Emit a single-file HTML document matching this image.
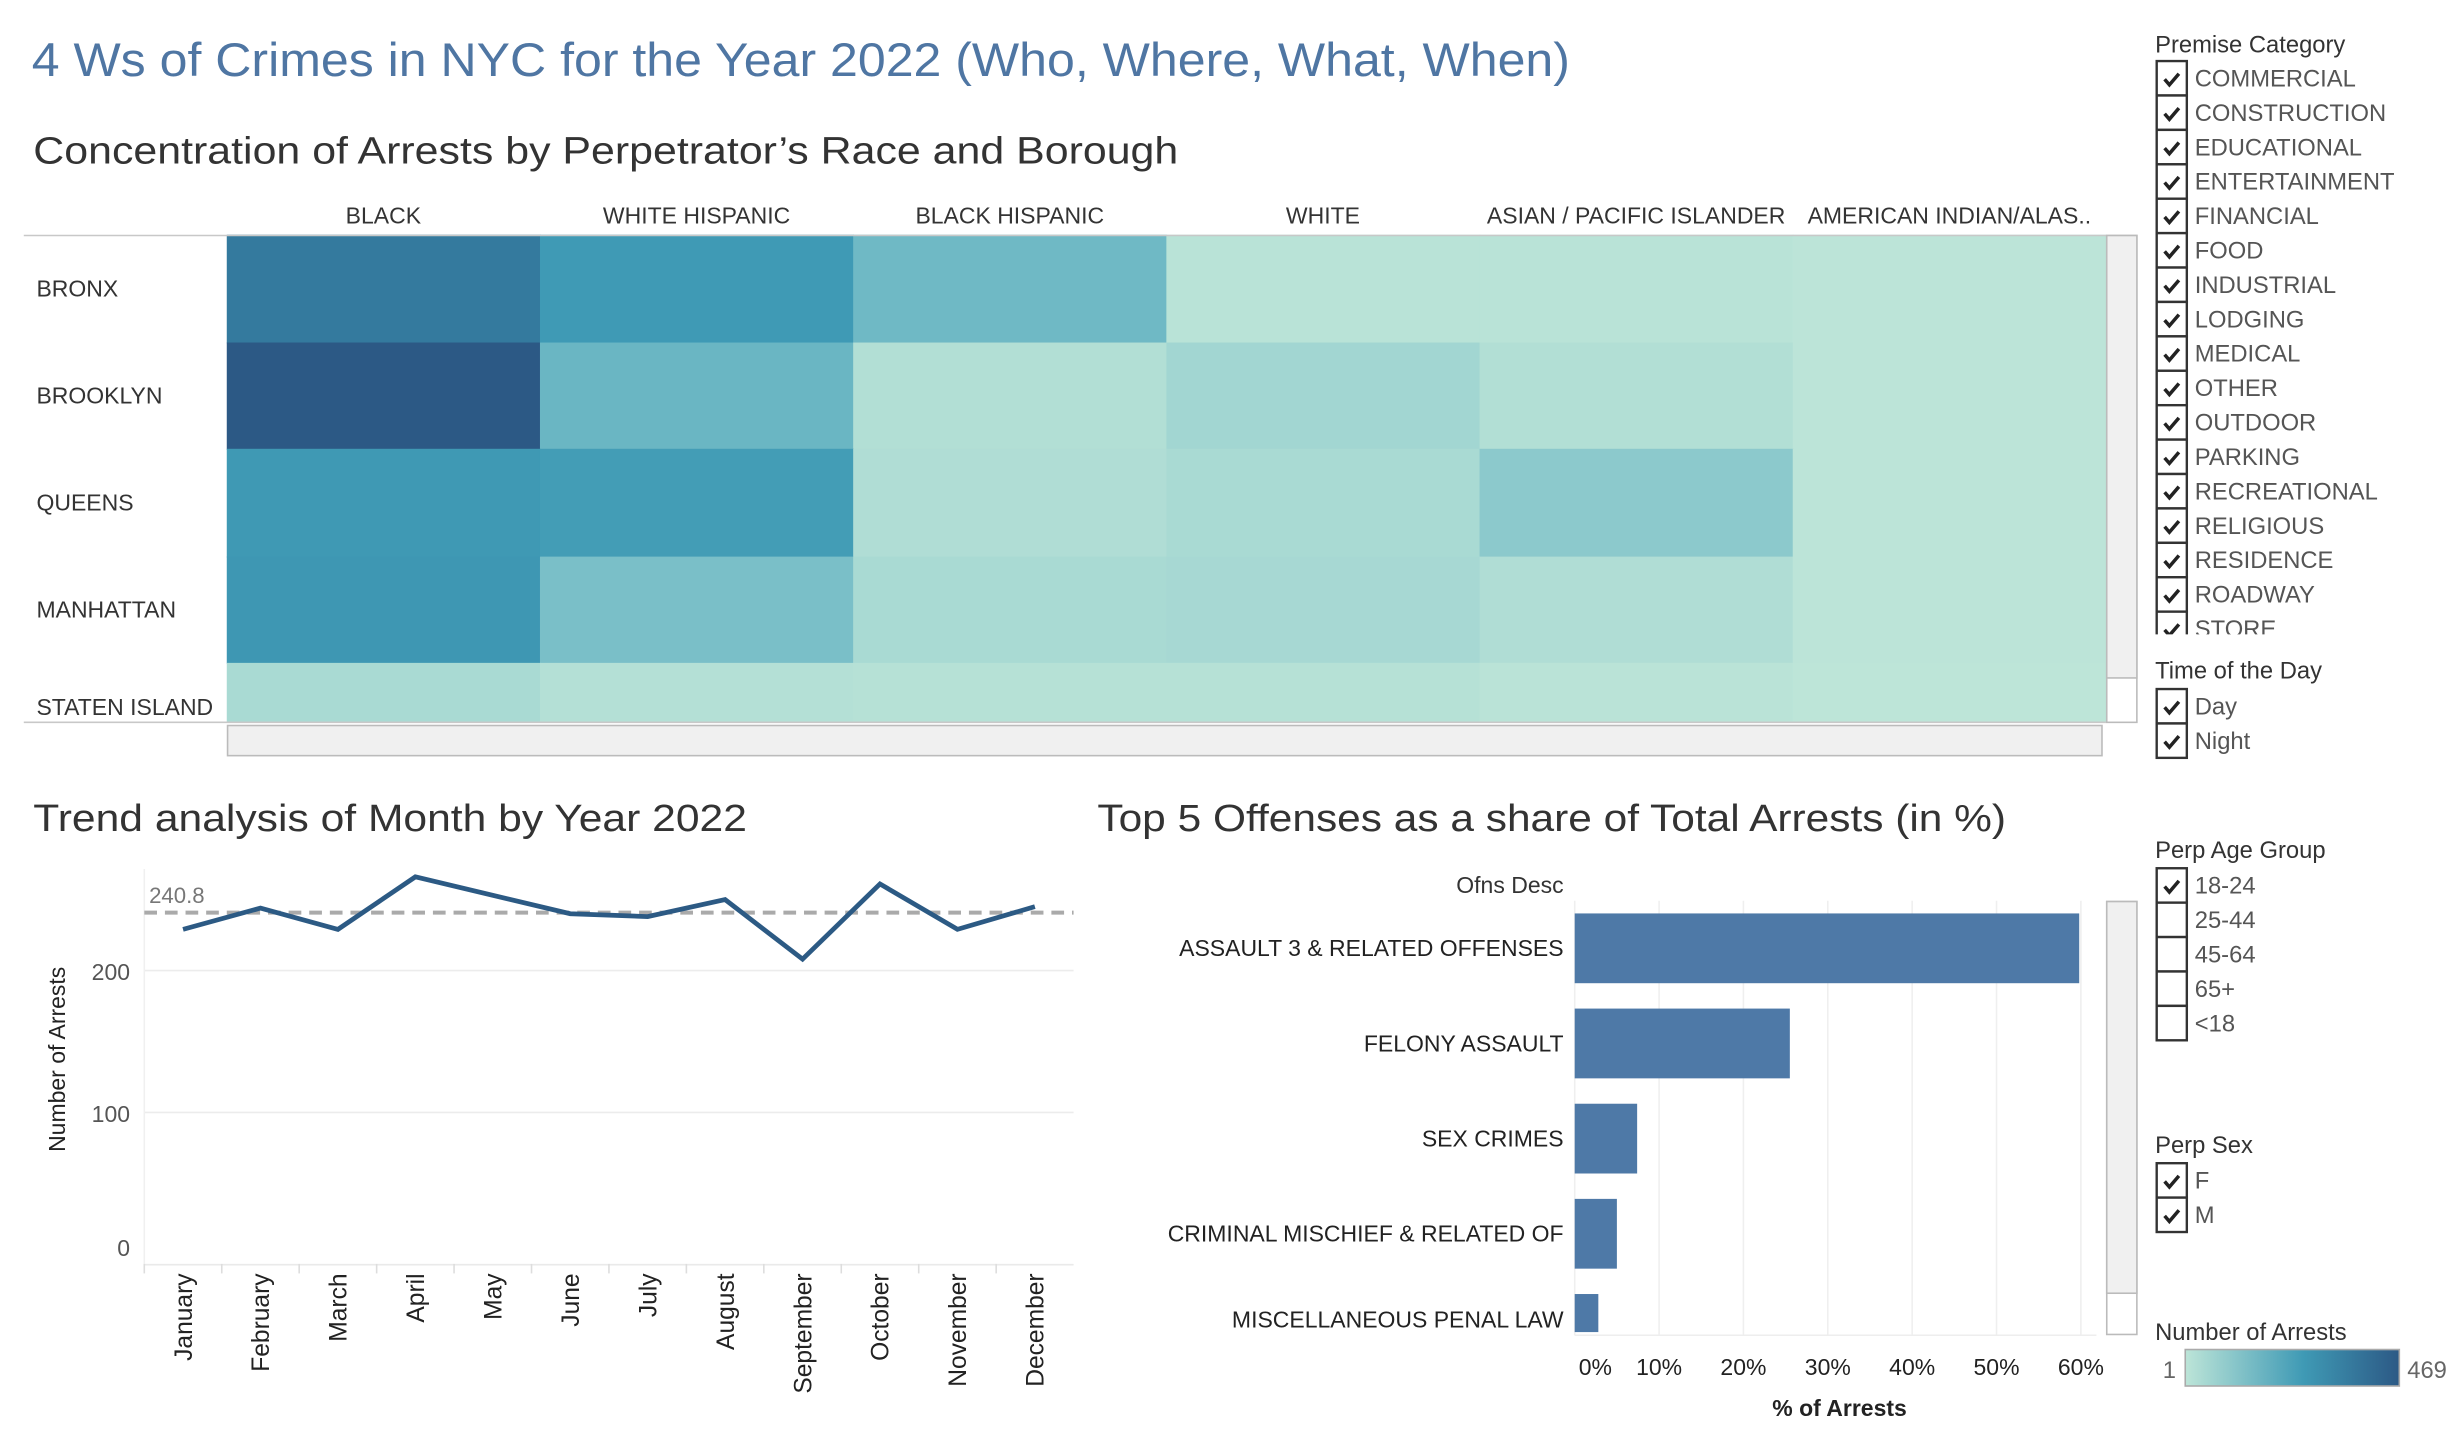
<!DOCTYPE html>
<html><head><meta charset="utf-8"><style>
html,body{margin:0;padding:0;background:#fff;width:2458px;height:1432px;overflow:hidden}
svg text{font-family:"Liberation Sans Narrow","Liberation Sans",sans-serif}
</style></head><body>
<svg id="root" xmlns="http://www.w3.org/2000/svg" width="2458" height="1432" viewBox="0 0 1550 903">
<text x="20" y="48" font-size="30" fill="#4f76a3" textLength="970" lengthAdjust="spacingAndGlyphs">4 Ws of Crimes in NYC for the Year 2022 (Who, Where, What, When)</text>
<text x="21" y="103" font-size="24" fill="#333" textLength="722" lengthAdjust="spacingAndGlyphs">Concentration of Arrests by Perpetrator’s Race and Borough</text>
<g id="heat"></g>
<text x="21" y="524" font-size="24" fill="#333" textLength="450" lengthAdjust="spacingAndGlyphs">Trend analysis of Month by Year 2022</text>
<g id="line"></g>
<text x="692" y="524" font-size="24" fill="#333" textLength="573" lengthAdjust="spacingAndGlyphs">Top 5 Offenses as a share of Total Arrests (in %)</text>
<g id="bar"></g>
<g id="filters"></g>
</svg>
<script>
const races=["BLACK","WHITE HISPANIC","BLACK HISPANIC","WHITE","ASIAN / PACIFIC ISLANDER","AMERICAN INDIAN/ALAS.."];
const boroughs=["BRONX","BROOKLYN","QUEENS","MANHATTAN","STATEN ISLAND"];
const arrestsBronx=[366,258,165,10,10,4];
const arrestsBrooklyn=[469,174,24,57,24,3];
const arrestsQueens=[263,250,29,43,104,3];
const arrestsManhattan=[268,141,43,48,29,3];
const arrestsStaten=[43,20,15,15,8,2];
const heatValues=[arrestsBronx,arrestsBrooklyn,arrestsQueens,arrestsManhattan,arrestsStaten];
const months=["January","February","March","April","May","June","July","August","September","October","November","December"];
const monthlyArrests=[229,244,229,266,253,240,238,250,208,261,229,245];
const avgLine=[240.8];
const yTicks=[0,100,200];
const offenses=["ASSAULT 3 & RELATED OFFENSES","FELONY ASSAULT","SEX CRIMES","CRIMINAL MISCHIEF & RELATED OF","MISCELLANEOUS PENAL LAW"];
const offensePct=[59.8,25.5,7.4,5.0,2.8];
const pctTicks=[0,10,20,30,40,50,60];
const premises=["COMMERCIAL","CONSTRUCTION","EDUCATIONAL","ENTERTAINMENT","FINANCIAL","FOOD","INDUSTRIAL","LODGING","MEDICAL","OTHER","OUTDOOR","PARKING","RECREATIONAL","RELIGIOUS","RESIDENCE","ROADWAY","STORE"];
const NS="http://www.w3.org/2000/svg";
function mk(p,tag,attrs,txt){const e=document.createElementNS(NS,tag);for(const k in attrs)e.setAttribute(k,attrs[k]);if(txt!==undefined)e.textContent=txt;p.appendChild(e);return e;}
const stops=[[0,[189,229,216]],[0.35,[111,185,197]],[0.55,[63,154,181]],[0.78,[52,122,158]],[1,[44,89,133]]];
function col(v){const t=(v-1)/468;for(let i=1;i<stops.length;i++){if(t<=stops[i][0]){const a=stops[i-1],b=stops[i];const f=(t-a[0])/(b[0]-a[0]);const c=a[1].map((x,j)=>Math.round(x+(b[1][j]-x)*f));return `rgb(${c})`;}}return "rgb(44,89,133)";}
// heatmap
const H=document.getElementById('heat');
const hx0=143,cw=197.5,rowY=[148,216,283,351,418,455];
races.forEach((r,i)=>{const t=mk(H,'text',{x:hx0+cw*i+cw/2,y:141,'font-size':14.5,fill:'#333','text-anchor':'middle'},r);});
boroughs.forEach((b,j)=>{const t=mk(H,'text',{x:23,y:(rowY[j]+rowY[j+1])/2+(j==4?-4:5),'font-size':14.5,fill:'#333'},b);
 if(j==4)t.setAttribute('y',451);
 races.forEach((r,i)=>{const c=mk(H,'rect',{x:hx0+cw*i,y:rowY[j],width:cw+0.5,height:rowY[j+1]-rowY[j]+0.5,fill:col(heatValues[j][i])});});});
let l=mk(H,'line',{x1:15,x2:1328,y1:148.5,y2:148.5,stroke:'#c8c8c8'});
l=mk(H,'line',{x1:15,x2:1328,y1:455.5,y2:455.5,stroke:'#c8c8c8'});
let s=mk(H,'rect',{x:1328.5,y:148.5,width:19,height:307,fill:'#fff',stroke:'#bbb'});
s=mk(H,'rect',{x:1328.5,y:148.5,width:19,height:279,fill:'#f0f0f0',stroke:'#bbb'});
s=mk(H,'rect',{x:143.5,y:457.5,width:1182,height:19,fill:'#f0f0f0',stroke:'#bbb'});
// line chart
const L=document.getElementById('line');
const px0=91,px1=677,y0=791,yPer=0.895;
const bw=(px1-px0)/months.length;
const xm=i=>px0+bw*i+bw/2, ym=v=>y0-v*yPer;
yTicks.forEach(v=>{if(v>0){const g=mk(L,'line',{x1:px0,x2:px1,y1:ym(v),y2:ym(v),stroke:'#ececec'});}
 const t=mk(L,'text',{x:82,y:ym(v)+(v==0?1:6),'font-size':14.5,fill:'#555','text-anchor':'end'},String(v));});
l=mk(L,'line',{x1:px0,x2:px0,y1:548,y2:797,stroke:'#f0f0f0'});
l=mk(L,'line',{x1:px0,x2:px1,y1:797.5,y2:797.5,stroke:'#eaeaea'});
months.forEach((m,i)=>{const tk=mk(L,'line',{x1:px0+bw*i,x2:px0+bw*i,y1:797,y2:803,stroke:'#ddd'});
 const t=mk(L,'text',{x:0,y:0,'font-size':15.5,fill:'#222','text-anchor':'end','font-family':'DejaVu Sans, sans-serif',transform:`translate(${xm(i)+5.5},803) rotate(-90)`},m);});
l=mk(L,'line',{x1:px0,x2:px1,y1:ym(avgLine[0]),y2:ym(avgLine[0]),stroke:'#aaa','stroke-width':2.5,'stroke-dasharray':'8,5'});
let t=mk(L,'text',{x:94,y:ym(avgLine[0])-6,'font-size':14,fill:'#777'},String(avgLine[0]));
const pl=mk(L,'polyline',{points:monthlyArrests.map((v,i)=>xm(i)+','+ym(v)).join(' '),fill:'none',stroke:'#2c5a84','stroke-width':3,'stroke-linejoin':'miter'});
t=mk(L,'text',{x:0,y:0,'font-size':14.5,fill:'#222','text-anchor':'middle','font-family':'DejaVu Sans, sans-serif',transform:'translate(41,668) rotate(-90)'},'Number of Arrests');
// bar chart
const B=document.getElementById('bar');
const bx0=993,bper=5.32,bTop=568,bBot=842;
const bx=v=>bx0+v*bper;
pctTicks.forEach(v=>{const g=mk(B,'line',{x1:bx(v),x2:bx(v),y1:bTop,y2:bBot,stroke:'#efefef'});
 const t=mk(B,'text',{x:v==0?bx(v)+13:bx(v),y:867,'font-size':14.5,fill:'#222','text-anchor':'middle'},v+'%');});
l=mk(B,'line',{x1:bx0,x2:1322,y1:bBot,y2:bBot,stroke:'#eee'});
const rowH=60;
offenses.forEach((o,i)=>{const cy=598+i*rowH;const top=cy-22;const h=Math.min(44,bBot-2-top);
 const r=mk(B,'rect',{x:bx0,y:top,width:bx(offensePct[i])-bx0,height:h,fill:'#4e79a7'});
 const t=mk(B,'text',{x:986,y:(i==4?832:cy)+5,'font-size':14.5,fill:'#222','text-anchor':'end'},o);});
t=mk(B,'text',{x:986,y:563,'font-size':14.5,fill:'#333','text-anchor':'end'},'Ofns Desc');
t=mk(B,'text',{x:1160,y:893,'font-size':14.5,fill:'#222','text-anchor':'middle','font-weight':'bold'},'% of Arrests');
s=mk(B,'rect',{x:1328.5,y:568.5,width:19,height:273,fill:'#fff',stroke:'#bbb'});
s=mk(B,'rect',{x:1328.5,y:568.5,width:19,height:247,fill:'#f0f0f0',stroke:'#bbb'});
// filters
const F=document.getElementById('filters');
function head(txt,y,name){const t=mk(F,'text',{x:1359,y:y,'font-size':15,fill:'#333'},txt);}
function box(label,y,checked,name){const g=mk(F,'g',{});
 mk(g,'rect',{x:1360,y:y,width:19,height:21.7,fill:'#fff',stroke:'#333','stroke-width':1.5});
 if(checked)mk(g,'path',{d:`M1365 ${y+11.5} l3 3.5 l6 -7`,fill:'none',stroke:'#222','stroke-width':2.2});
 mk(g,'text',{x:1384,y:y+16,'font-size':15,fill:'#555'},label);}
head('Premise Category',33,'premise-category-title');
const clip=mk(F,'clipPath',{id:'pc'});mk(clip,'rect',{x:1350,y:37,width:200,height:363});
const pg=mk(F,'g',{'clip-path':'url(#pc)'});
premises.forEach((p,i)=>{const y=38.5+i*21.7;const g=mk(pg,'g',{});
 mk(g,'rect',{x:1360,y:y,width:19,height:21.7,fill:'#fff',stroke:'#333','stroke-width':1.5});
 mk(g,'path',{d:`M1365 ${y+11.5} l3 3.5 l6 -7`,fill:'none',stroke:'#222','stroke-width':2.2});
 mk(g,'text',{x:1384,y:y+16,'font-size':15,fill:'#555'},p);});
head('Time of the Day',428,'time-of-day-title');
box('Day',434.5,true,'day-checkbox');box('Night',456.2,true,'night-checkbox');
head('Perp Age Group',541,'age-group-title');
['18-24','25-44','45-64','65+','<18'].forEach((a,i)=>box(a,547.5+i*21.7,i==0,'age-checkbox'));
head('Perp Sex',727,'perp-sex-title');
box('F',733.5,true,'sex-f-checkbox');box('M',755.2,true,'sex-m-checkbox');
head('Number of Arrests',845,'color-legend-title');
const gd=mk(F,'linearGradient',{id:'lg'});[['0','#bde5d8'],['0.55','#3f9ab5'],['1','#2c5985']].forEach(s=>mk(gd,'stop',{offset:s[0],'stop-color':s[1]}));
s=mk(F,'rect',{x:1378,y:851,width:135,height:23,fill:'url(#lg)',stroke:'#aaa'});
t=mk(F,'text',{x:1368,y:869,'font-size':15,fill:'#666','text-anchor':'middle'},'1');
t=mk(F,'text',{x:1518,y:869,'font-size':15,fill:'#666'},'469');
</script>
</body></html>
